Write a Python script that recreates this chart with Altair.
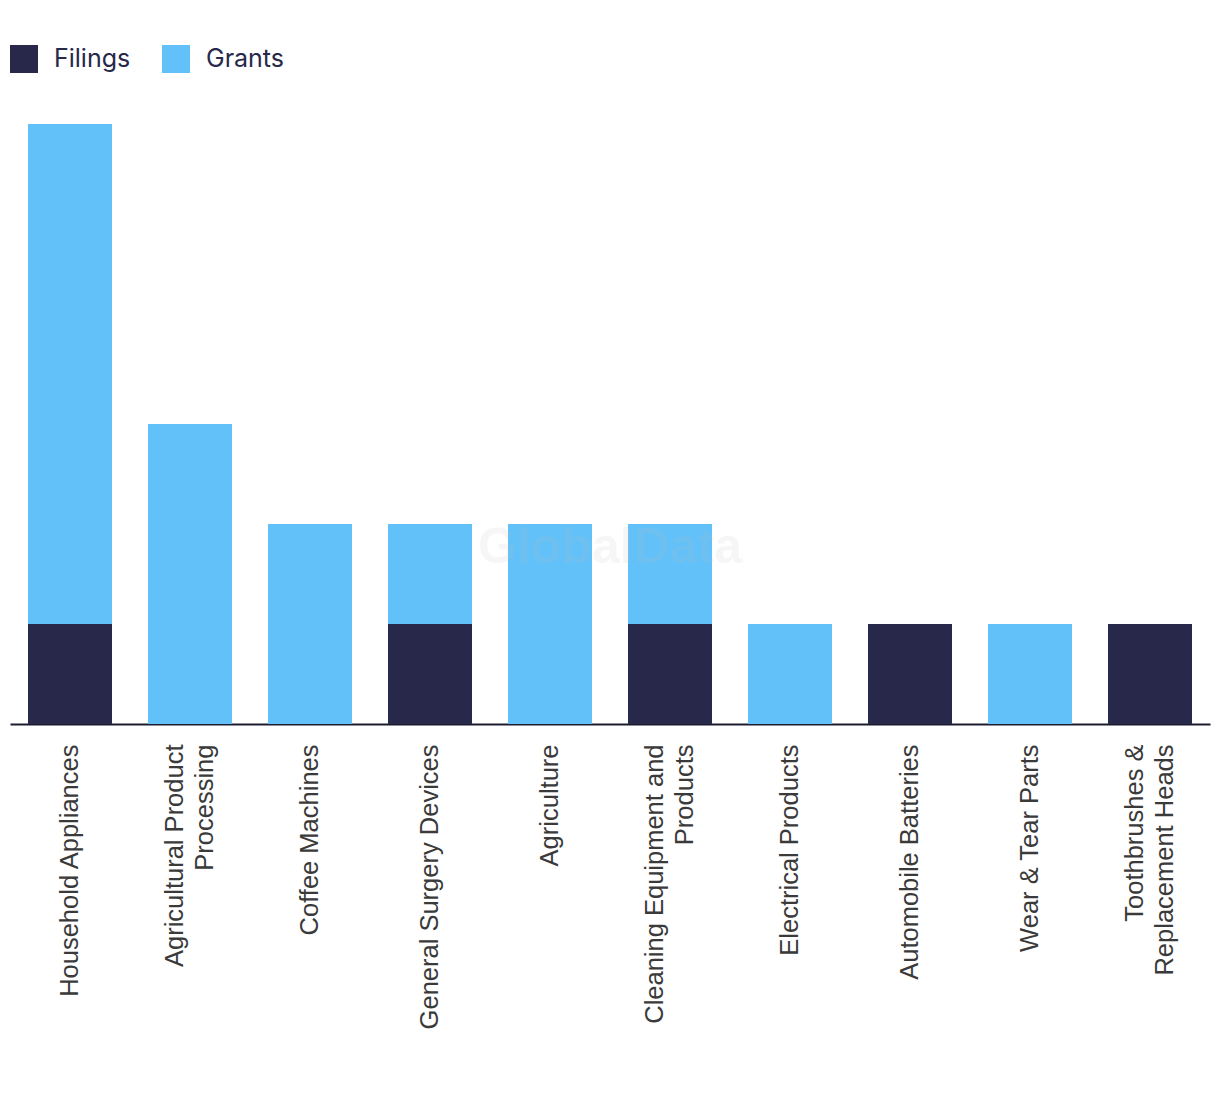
import altair as alt
import pandas as pd

categories = [
    "Household Appliances",
    "Agricultural Product Processing",
    "Coffee Machines",
    "General Surgery Devices",
    "Agriculture",
    "Cleaning Equipment and Products",
    "Electrical Products",
    "Automobile Batteries",
    "Wear & Tear Parts",
    "Toothbrushes & Replacement Heads",
]
filings = [1, 0, 0, 1, 0, 1, 0, 1, 0, 1]
grants = [5, 3, 2, 1, 2, 1, 1, 0, 1, 0]
wrapped = {
    "Agricultural Product Processing": ["Agricultural Product", "Processing"],
    "Cleaning Equipment and Products": ["Cleaning Equipment and", "Products"],
    "Toothbrushes & Replacement Heads": ["Toothbrushes &", "Replacement Heads"],
}
series = ["Filings", "Grants"]
colors = ["#27284a", "#62c1f8"]

rows = []
for c, f, g in zip(categories, filings, grants):
    rows.append({"category": c, "type": "Filings", "value": f, "ord": 0})
    rows.append({"category": c, "type": "Grants", "value": g, "ord": 1})
df = pd.DataFrame(rows)

expr = "datum.label"
for k, v in wrapped.items():
    expr = f"datum.label == '{k}' ? ['{v[0]}', '{v[1]}'] : (" + expr + ")"
multi_list = "[" + ",".join(f"'{k}'" for k in wrapped) + "]"
offset_cond = {"condition": {"test": f"indexof({multi_list}, datum.value) >= 0", "value": -15},
               "value": 0}

bars = alt.Chart(df).mark_bar().encode(
    x=alt.X("category:N", sort=categories,
            scale=alt.Scale(paddingInner=0.3, paddingOuter=0.15),
            axis=alt.Axis(title=None, labelAngle=-90, labelFontSize=25.5,
                          labelFont="Liberation Sans", labelColor="#3a3a3a",
                          labelPadding=20, labelLineHeight=30, ticks=False,
                          domainColor="#1c1c2e", domainWidth=2,
                          labelOffset=offset_cond,
                          labelExpr=expr, labelLimit=400)),
    y=alt.Y("value:Q", stack="zero", scale=alt.Scale(domain=[0, 6], nice=False),
            axis=None),
    color=alt.Color("type:N", sort=series,
                    scale=alt.Scale(domain=series, range=colors),
                    legend=alt.Legend(title=None, orient="none", legendX=0, legendY=-79,
                                      direction="horizontal", symbolType="square",
                                      symbolSize=784, symbolStrokeWidth=0,
                                      labelFontSize=25, labelFont="Inter",
                                      labelColor="#27284a", labelOffset=16,
                                      columnPadding=31)),
    order=alt.Order("ord:Q"),
)

watermark = alt.Chart(pd.DataFrame({"t": ["GlobalData"]})).mark_text(
    fontSize=50, fontWeight="bold", font="Liberation Sans", color="#bbbbbb", opacity=0.12
).encode(text="t:N", x=alt.value(600), y=alt.value(424))

chart = (bars + watermark).properties(
    width=1200, height=600,
    autosize=alt.AutoSizeParams(type="none"),
    padding={"left": 2, "top": 116, "right": 2, "bottom": 360},
).configure_view(stroke=None)

chart.save("out.html", embed_options={"renderer": "svg", "actions": False})
